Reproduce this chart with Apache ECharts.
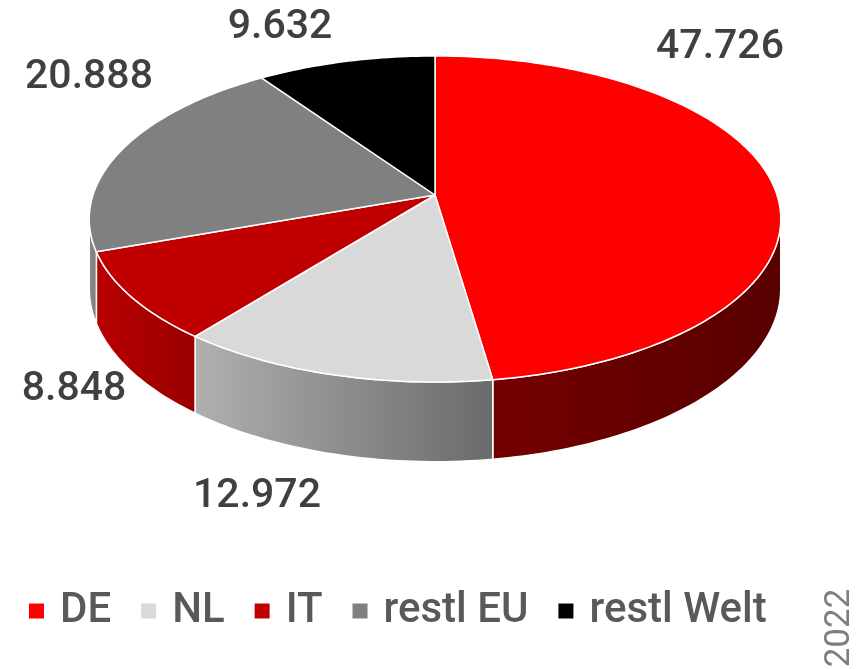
<!DOCTYPE html>
<html>
<head>
<meta charset="utf-8">
<script src="https://cdn.jsdelivr.net/npm/echarts@6/dist/echarts.min.js"></script>
<style>
  html, body { margin: 0; padding: 0; background: #fff; }
  #chart { width: 863px; height: 669px; }
</style>
</head>
<body>
<div id="chart"></div>
<script>
// data
const names = ['DE', 'NL', 'IT', 'restl EU', 'restl Welt'];
const values = [47.726, 12.972, 8.848, 20.888, 9.632];
const valueLabels = ['47.726', '12.972', '8.848', '20.888', '9.632'];
const yearLabel = '2022';

// styles
const topColors = ['#ff0000', '#d9d9d9', '#c00000', '#808080', '#000000'];
const sideColors = [
  ['#740000', '#580000'],
  ['#b0b0b0', '#6a6a6a'],
  ['#b80000', '#9a0000'],
  ['#8c8c8c', '#7a7a7a'],
  ['#000000', '#000000']
];
// label anchor points (layout)
const labelPos = [[720, 48], [257, 497], [74, 390], [89, 78], [280, 28]];

// perspective of the 3d pie: apex, radii, tilt, thickness
const P = { ax: 435, ay: 195, A: 342, B: 159.5, e: 0.147, H: 68 };

const total = values.reduce((a, b) => a + b, 0);
const cum = [0];
values.forEach(v => cum.push(cum[cum.length - 1] + v));

function proj(phi, depth) {
  const u = Math.sin(phi), v = -Math.cos(phi);
  const w = 1 - P.e * v;
  return [P.ax + P.A * u / w, P.ay + (P.B * v + depth) / w];
}

function arc(a0, a1, depth) {
  const n = Math.max(4, Math.ceil(Math.abs(a1 - a0) / 0.02));
  const pts = [];
  for (let k = 0; k <= n; k++) pts.push(proj(a0 + (a1 - a0) * k / n, depth));
  return pts;
}

// silhouette angles where the side wall becomes visible
const silA = Math.acos(-P.e);
const silB = 2 * Math.PI - silA;

function renderItem(params, api) {
  const i = params.seriesIndex;
  const a0 = cum[i] / total * 2 * Math.PI;
  const a1 = cum[i + 1] / total * 2 * Math.PI;
  const children = [];

  const s0 = Math.max(a0, silA), s1 = Math.min(a1, silB);
  if (s1 > s0) {
    const top = arc(s0, s1, 0);
    const bot = arc(s0, s1, P.H).reverse();
    children.push({
      type: 'polygon',
      z2: 1,
      shape: { points: top.concat(bot) },
      style: {
        fill: new echarts.graphic.LinearGradient(0, 0, 1, 0, [
          { offset: 0, color: sideColors[i][0] },
          { offset: 1, color: sideColors[i][1] }
        ]),
        stroke: '#fff',
        lineWidth: 1.5,
        lineJoin: 'round'
      }
    });
  }

  children.push({
    type: 'polygon',
    z2: 2,
    shape: { points: [[P.ax, P.ay]].concat(arc(a0, a1, 0)) },
    style: { fill: topColors[i], stroke: '#fff', lineWidth: 1.5, lineJoin: 'round' }
  });

  children.push({
    type: 'text',
    z2: 3,
    style: {
      x: labelPos[i][0],
      y: labelPos[i][1],
      text: valueLabels[i],
      fill: '#404040',
      fontSize: 41,
      fontWeight: 500,
      fontFamily: 'Roboto',
      align: 'center',
      verticalAlign: 'middle'
    }
  });

  return { type: 'group', children };
}

const chart = echarts.init(document.getElementById('chart'));

chart.setOption({
  animation: false,
  legend: {
    data: names,
    left: 24,
    top: 585,
    icon: 'rect',
    itemWidth: 15,
    itemHeight: 15,
    itemGap: 30,
    selectedMode: false,
    textStyle: {
      fontSize: 42,
      fontWeight: 500,
      color: '#595959',
      fontFamily: 'Roboto',
      padding: [0, 0, 0, 11]
    }
  },
  graphic: [{
    type: 'text',
    x: 840,
    y: 628,
    rotation: Math.PI / 2,
    style: {
      text: yearLabel,
      fill: '#7f7f7f',
      fontSize: 35,
      fontFamily: 'Roboto',
      align: 'center',
      verticalAlign: 'middle'
    }
  }],
  series: names.map((name, i) => ({
    type: 'custom',
    name: name,
    coordinateSystem: 'none',
    silent: true,
    itemStyle: { color: topColors[i] },
    renderItem: renderItem,
    data: [values[i]]
  }))
});
</script>
</body>
</html>
